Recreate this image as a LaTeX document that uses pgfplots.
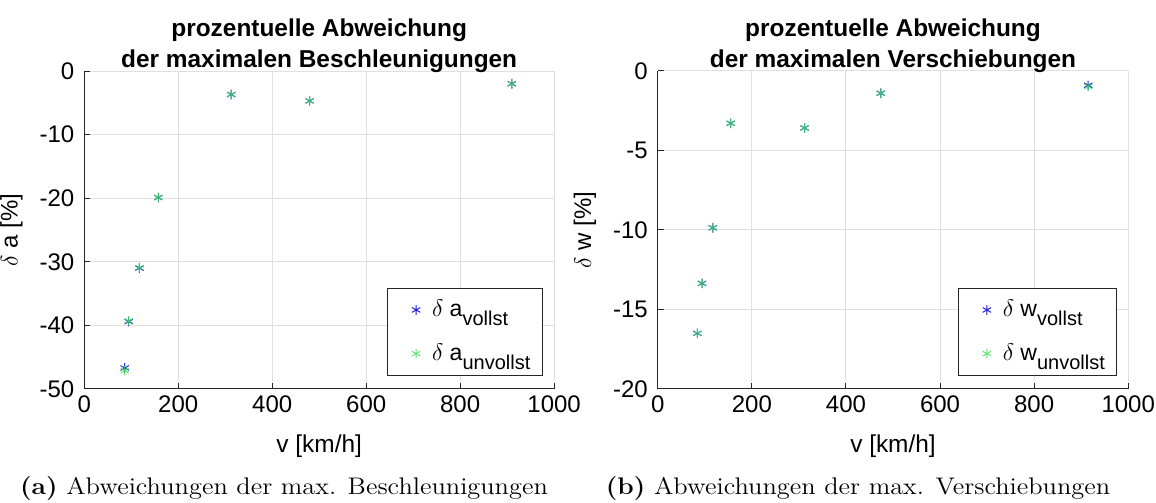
\documentclass[border=0pt]{standalone}
\usepackage{fontspec}
\usepackage{pgfplots}
\pgfplotsset{compat=1.18}
\newfontfamily\arial{Liberation Sans}
\definecolor{mblue}{rgb}{0.15,0.15,0.85}
\definecolor{mgreen}{rgb}{0.25,0.88,0.35}
\definecolor{gridc}{rgb}{0.88,0.88,0.88}
\definecolor{axc}{rgb}{0.15,0.15,0.15}
\newcommand{\sub}[1]{\raisebox{-4.5pt}{\fontsize{10}{12}\selectfont #1}}
\pgfplotsset{
  every axis title shift=0pt,
  mystyle/.style={
    scale only axis,
    height=159pt,
    axis x line*=bottom, axis y line*=left,
    axis line style={axc, line width=0.5pt},
    every tick/.style={axc, line width=0.5pt},
    tick align=inside, major tick length=3pt,
    grid=major, major grid style={gridc, line width=0.5pt},
    xmin=0, xmax=1000,
    xtick={0,200,400,600,800,1000},
    xticklabels={0,200,400,600,800,1000},
    ticklabel style={font=\arial\fontsize{12}{14}\selectfont},
    yticklabel style={xshift=-1.5pt},
    xlabel={v [km/h]},
    xlabel style={font=\arial\fontsize{12.2}{14}\selectfont, at={(axis description cs:0.5,0)}, anchor=base, yshift=-31.5pt, inner sep=0pt},
    ylabel style={font=\arial\fontsize{12}{14}\selectfont, at={(axis description cs:0,0.5)}, anchor=center, yshift=36.5pt, inner sep=0pt},
    title style={font=\arial\bfseries\fontsize{12.2}{15.3}\selectfont, align=center, at={(axis description cs:0.5,1)}, anchor=south, inner sep=0pt, yshift=-1pt},
    legend cell align=left,
    legend style={font=\arial\fontsize{11.5}{13}\selectfont, draw=axc, line width=0.5pt, anchor=south east, inner xsep=4pt, inner ysep=4pt, row sep=8pt},
    clip=false,
  },
  vser/.style={only marks, mark=asterisk, mark size=2.4pt, mblue, mark options={line width=0.5pt},
    legend image code/.code={\path (0cm,0cm) (0.55cm,0cm); \draw[##1] plot coordinates {(0.35cm,0cm)};}},
  user/.style={only marks, mark=asterisk, mark size=2.4pt, mgreen, mark options={line width=0.5pt, opacity=0.8},
    legend image code/.code={\path (0cm,0cm) (0.55cm,0cm); \draw[##1] plot coordinates {(0.35cm,0cm)};}},
}
\begin{document}
\begin{tikzpicture}
\path[use as bounding box] (0,0) rectangle (578pt,251.5pt);
\begin{axis}[mystyle, at={(42.15pt,57pt)}, anchor=south west, width=234.9pt,
  ymin=-50, ymax=0, ytick={-50,-40,-30,-20,-10,0},
  yticklabels={-50,-40,-30,-20,-10,0},
  ylabel={$\delta$ a [\%]},
  title={prozentuelle Abweichung\\der maximalen Beschleunigungen},
  legend style={at={(0.976,0.041)}},
]
\addplot[vser] coordinates {(86,-46.7) (94.5,-39.4) (117.4,-31.0) (157.5,-19.9) (312.7,-3.7) (479.6,-4.7) (910,-2.0)};
\addlegendentry{$\delta$ a\sub{vollst}}
\addplot[user] coordinates {(86,-47.1) (94.5,-39.3) (117.4,-30.9) (157.5,-19.9) (312.7,-3.7) (479.6,-4.7) (910,-2.0)};
\addlegendentry{$\delta$ a\sub{unvollst}}
\end{axis}
\begin{axis}[mystyle, at={(328.9pt,57pt)}, anchor=south west, width=235.2pt,
  ymin=-20, ymax=0, ytick={-20,-15,-10,-5,0},
  yticklabels={-20,-15,-10,-5,0},
  ylabel={$\delta$ w [\%]},
  title={prozentuelle Abweichung\\der maximalen Verschiebungen},
  legend style={at={(0.977,0.041)}},
]
\addplot[vser] coordinates {(84,-16.5) (94,-13.36) (117,-9.86) (155,-3.29) (312,-3.58) (474,-1.40) (915,-0.90)};
\addlegendentry{$\delta$ w\sub{vollst}}
\addplot[user] coordinates {(84,-16.5) (94,-13.36) (117,-9.86) (155,-3.29) (312,-3.58) (474,-1.40) (915,-0.98)};
\addlegendentry{$\delta$ w\sub{unvollst}}
\end{axis}
\node[anchor=base, inner sep=0pt, font=\fontsize{12}{14}\selectfont, xscale=1.1] at (142pt,4.5pt) {\textbf{(a)} Abweichungen der max. Beschleunigungen};
\node[anchor=base, inner sep=0pt, font=\fontsize{12}{14}\selectfont, xscale=1.1] at (429pt,4.5pt) {\textbf{(b)} Abweichungen der max. Verschiebungen};
\end{tikzpicture}
\end{document}
